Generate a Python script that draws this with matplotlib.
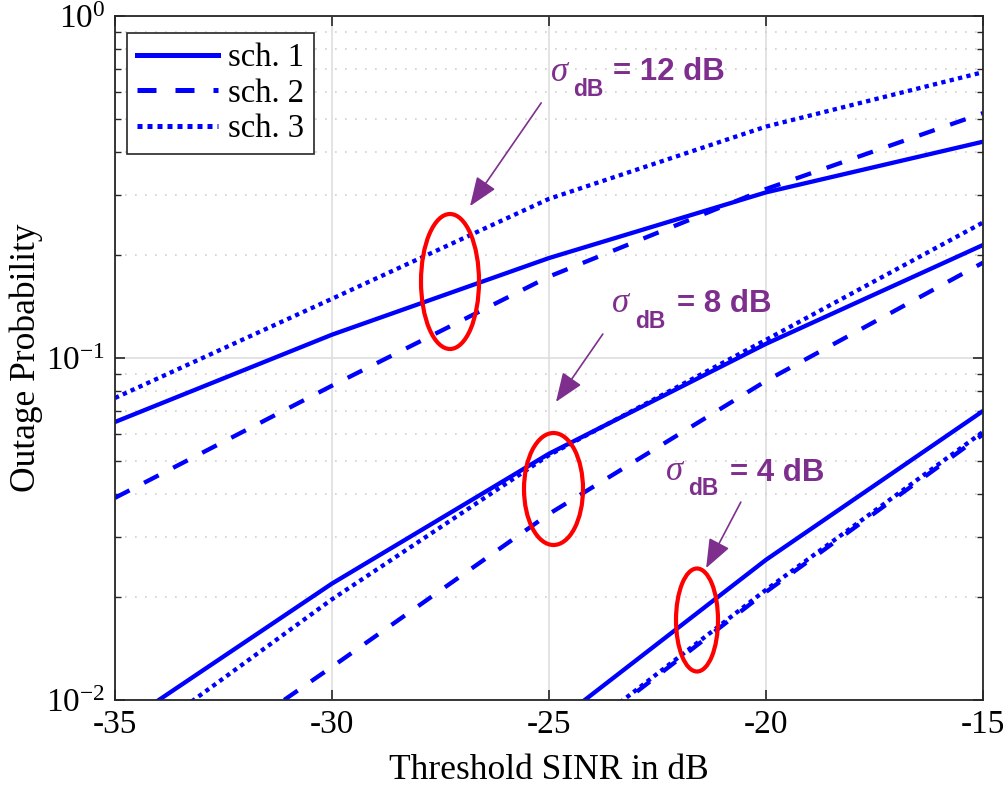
import numpy as np
import matplotlib
matplotlib.use("Agg")
import matplotlib.pyplot as plt
from matplotlib.patches import Ellipse
from matplotlib.ticker import LogLocator, NullFormatter, FixedLocator

plt.rcParams['font.family'] = ['Liberation Serif', 'DejaVu Serif']
plt.rcParams['mathtext.fontset'] = 'custom'
plt.rcParams['mathtext.rm'] = 'Liberation Serif'
plt.rcParams['mathtext.it'] = 'Liberation Serif:italic'
plt.rcParams['axes.unicode_minus'] = False

# threshold SINR (dB)
sinr = [-35, -30, -25, -20, -15]

# sigma_dB = 12 dB
p12_s1 = [0.065, 0.117, 0.196, 0.305, 0.429]
p12_s2 = [0.039, 0.083, 0.173, 0.312, 0.52]
p12_s3 = [0.0764, 0.149, 0.292, 0.475, 0.685]
# sigma_dB = 8 dB
p8_s1 = [0.0082, 0.0219, 0.0525, 0.110, 0.214]
p8_s2 = [0.00455, 0.0125, 0.035, 0.0857, 0.190]
p8_s3 = [0.0068, 0.0197, 0.0520, 0.113, 0.249]
# sigma_dB = 4 dB
p4_s1 = [0.0008, 0.0026, 0.0083, 0.0257, 0.070]
p4_s2 = [0.0006, 0.0020, 0.0067, 0.0207, 0.0598]
p4_s3 = [0.0006, 0.0021, 0.0068, 0.0210, 0.0608]

legend_labels = ['sch. 1', 'sch. 2', 'sch. 3']

blue = (0, 0, 1)
purple = '#7E2F8E'
lw = 3.1
styles = ['-', (0, (3.8, 3.8)), (0, (1, 1))]

fig = plt.figure(figsize=(10.06, 7.92), dpi=100)
ax = fig.add_axes([115/1006, 1-700/792, 868/1006, 684/792])

groups = [(p12_s1, p12_s2, p12_s3), (p8_s1, p8_s2, p8_s3), (p4_s1, p4_s2, p4_s3)]
handles = []
for g in groups:
    hs = []
    for vals, ls in zip(g, styles):
        h, = ax.plot(sinr, vals, color=blue, lw=lw, linestyle=ls, dash_capstyle='butt')
        hs.append(h)
    handles.append(hs)

ax.set_yscale('log')
ax.set_xlim(-35, -15)
ax.set_ylim(1e-2, 1)
ax.set_xticks([-35, -30, -25, -20, -15])
ax.yaxis.set_major_locator(FixedLocator([1e-2, 1e-1, 1]))
ax.set_yticklabels([r'$10^{-2}$', r'$10^{-1}$', r'$10^{0}$'])
ax.yaxis.set_minor_locator(LogLocator(base=10, subs=np.arange(2, 10)))
ax.yaxis.set_minor_formatter(NullFormatter())

ax.grid(True, which='major', color='#dedede', lw=1.2, linestyle='-')
ax.grid(True, which='minor', axis='y', color='#cfcfcf', lw=1.2, linestyle=(0, (1, 5)))
ax.set_axisbelow(True)

ax.tick_params(which='both', direction='in', top=True, right=True, colors='#262626',
               labelcolor='black')
ax.tick_params(which='major', length=7, width=1.2, labelsize=24, pad=7)
ax.tick_params(which='minor', length=4, width=1.0)
for sp in ax.spines.values():
    sp.set_color('#262626')
    sp.set_linewidth(1.3)

ax.set_xlabel('Threshold SINR in dB', fontsize=25.5, labelpad=10)
ax.set_ylabel('Outage Probability', fontsize=25.5, labelpad=2)

leg = ax.legend(handles[0], legend_labels, loc='upper left',
                bbox_to_anchor=(12/868, 1-17/684), borderaxespad=0,
                fontsize=23.5, handlelength=2.5, handletextpad=0.3,
                labelspacing=0.15, borderpad=0.3, fancybox=False,
                framealpha=1, edgecolor='#262626')
leg.get_frame().set_linewidth(1.2)
for ln in leg.get_lines():
    ln.set_linewidth(3.6)


def afrac(px, py):
    return ((px - 115) / 868, (700 - py) / 684)


# red ellipses (axes fraction)
for cx, cy, w, h in [(450, 281.5, 58, 135), (553.5, 489, 59, 112), (697, 620, 42, 103)]:
    c = afrac(cx, cy)
    ax.add_patch(Ellipse(c, w/868, h/684, transform=ax.transAxes, fill=False,
                         ec='red', lw=3, zorder=5))

# arrows (data coords): (start, tip)
arrows = [((-25.18, 0.557), (-26.82, 0.278)),
          ((-23.76, 0.1175), (-24.84, 0.0744)),
          ((-20.58, 0.0379), (-21.38, 0.0243))]
for st, tip in arrows:
    ax.annotate('', xy=tip, xytext=st,
                arrowprops=dict(arrowstyle='-|>,head_length=0.9,head_width=0.35',
                                color=purple, lw=1.2, mutation_scale=20,
                                shrinkA=0, shrinkB=0), zorder=6)

# sigma labels
labels = [((551, 81), (573, 96), (613, 80), '= 12 dB'),
          ((612, 312), (635, 328), (677, 312), '= 8 dB'),
          ((666, 480), (688, 495), (730, 481), '= 4 dB')]
for sig, sub, eq, txt in labels:
    ax.text(*afrac(*sig), '\u03c3', transform=ax.transAxes, fontsize=25,
            style='italic', color=purple, va='baseline', ha='left',
            family=['Liberation Serif', 'DejaVu Serif'], zorder=7)
    ax.text(*afrac(*sub), 'dB', transform=ax.transAxes, fontsize=16.5,
            weight='bold', color=purple, va='baseline', ha='left',
            family=['Liberation Sans', 'DejaVu Sans'], zorder=7)
    ax.text(*afrac(*eq), txt, transform=ax.transAxes, fontsize=22.5,
            weight='bold', color=purple, va='baseline', ha='left',
            family=['Liberation Sans', 'DejaVu Sans'], zorder=7)

fig.savefig('out.png', dpi=100)
